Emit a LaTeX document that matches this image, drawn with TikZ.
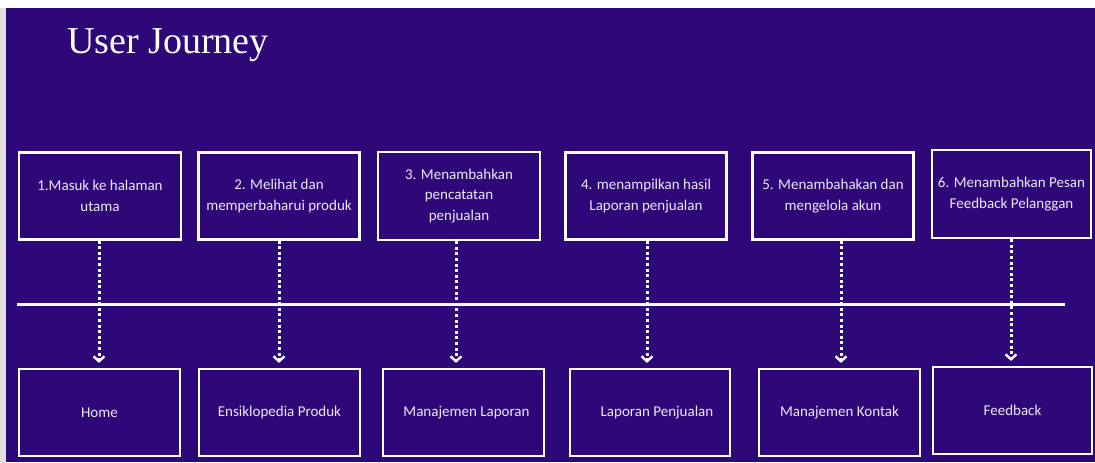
\documentclass[tikz,border=0pt]{standalone}
\usepackage{fontspec}
\setmainfont{Carlito}
\newfontfamily\titlefont{Liberation Serif}
\usetikzlibrary{arrows.meta}
\definecolor{bgpurple}{RGB}{46,7,120}
\definecolor{txt}{RGB}{238,232,246}
\begin{document}
\begin{tikzpicture}[x=1pt,y=-1pt,
  box/.style={draw=white, line width=2.2pt, align=center, text=txt,
    font=\fontsize{15}{20.5}\selectfont, inner sep=0pt,
    minimum width=161pt, minimum height=87pt},
  flow/.style={draw=white, line width=3pt, dash pattern=on 3pt off 2.6pt,
    -{Straight Barb[length=5pt,width=11pt,line width=2.4pt]}, shorten >=5pt},
  axis/.style={draw=white, line width=3pt}]
\useasboundingbox (0,0) rectangle (1095,463);
\fill[white] (0,0) rectangle (1095,463);
\fill[black!12] (0,8) rectangle (6,463);
\fill[bgpurple] (6,8) rectangle (1095,462);

\node[anchor=base west, text=white, font=\titlefont\fontsize{38}{40}\selectfont, inner sep=0pt] (title) at (67,53) {User Journey};

% top row
\node[box, minimum width=162pt] (t1) at (100,196) {1.Masuk ke halaman\\utama};
\node[box] (t2) at (279,196) {2. Melihat dan\\memperbaharui produk};
\node[box, minimum width=162pt, minimum height=88pt] (t3) at (459,196) {3. Menambahkan\\pencatatan\\penjualan};
\node[box] (t4) at (646,196) {4. menampilkan hasil\\Laporan penjualan};
\node[box] (t5) at (833,196) {5. Menambahakan dan\\mengelola akun};
\node[box, minimum width=159pt, minimum height=88pt] (t6) at (1011.5,194) {6. Menambahkan Pesan\\Feedback Pelanggan};

% bottom row
\node[box] (b1) at (99.5,412.5) {Home};
\node[box] (b2) at (279.5,412.5) {Ensiklopedia Produk};
\node[box] (b3) at (463.5,412.5) {\hspace*{6pt}Manajemen Laporan};
\node[box, minimum width=160pt] (b4) at (650,412.5) {\hspace*{14pt}Laporan Penjualan};
\node[box] (b5) at (839.5,412.5) {Manajemen Kontak};
\node[box, minimum width=159pt] (b6) at (1012.5,410.5) {Feedback};

% timeline
\coordinate (L) at (17,304);
\coordinate (R) at (1065,304);
\draw[axis] (L) -- (R);

% connectors
\draw[flow] ([xshift=-1pt]t1.south) -- ([xshift=-1pt]t1.south |- b1.north);
\draw[flow] (t2.south) -- (t2.south |- b2.north);
\draw[flow] ([xshift=-3pt]t3.south) -- ([xshift=-3pt]t3.south |- b3.north);
\draw[flow] ([xshift=1pt]t4.south) -- ([xshift=1pt]t4.south |- b4.north);
\draw[flow] ([xshift=8pt]t5.south) -- ([xshift=8pt]t5.south |- b5.north);
\draw[flow] ([xshift=-0.5pt]t6.south) -- ([xshift=-0.5pt]t6.south |- b6.north);
\end{tikzpicture}
\end{document}
